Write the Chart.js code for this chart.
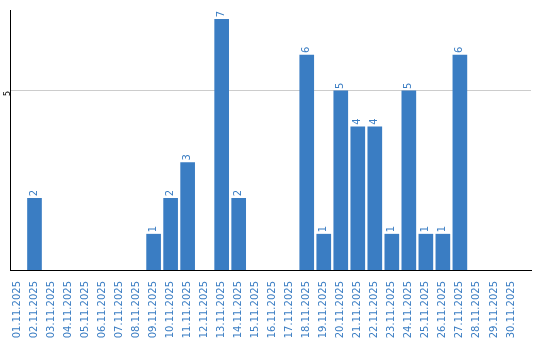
<!DOCTYPE html>
<html>
<head>
<meta charset="utf-8">
<script src="https://cdn.jsdelivr.net/npm/chart.js@4"></script>
<style>
    html, body { margin: 0; padding: 0; background: #fff; }
    #wrap { width: 540px; height: 340px; }
</style>
</head>
<body>
<div id="wrap"><canvas id="day-chart"></canvas></div>
<script>
// /---------------Data----------------/
const dayLabels = ['01.11.2025', '02.11.2025', '03.11.2025', '04.11.2025', '05.11.2025', '06.11.2025',
    '07.11.2025', '08.11.2025', '09.11.2025', '10.11.2025', '11.11.2025', '12.11.2025', '13.11.2025',
    '14.11.2025', '15.11.2025', '16.11.2025', '17.11.2025', '18.11.2025', '19.11.2025', '20.11.2025',
    '21.11.2025', '22.11.2025', '23.11.2025', '24.11.2025', '25.11.2025', '26.11.2025', '27.11.2025',
    '28.11.2025', '29.11.2025', '30.11.2025'];
const dayCounts = [0, 2, 0, 0, 0, 0, 0, 0, 1, 2, 3, 0, 7, 2, 0, 0, 0, 6, 1, 5, 4, 4, 1, 5, 1, 1, 6, 0, 0, 0];
const yTickValues = [5];

const blue = '#3a7dc3';

// /---------------Value labels on top of bars----------------/
const barValueLabels = {
    id: 'barValueLabels',
    afterDatasetsDraw(chart) {
        const ctx = chart.ctx;
        const meta = chart.getDatasetMeta(0);
        ctx.save();
        ctx.fillStyle = blue;
        ctx.font = '10px "DejaVu Sans"';
        ctx.textAlign = 'left';
        ctx.textBaseline = 'middle';
        meta.data.forEach((bar, i) => {
            const v = dayCounts[i];
            if (!v) return;
            ctx.save();
            ctx.translate(bar.x, bar.y - 2);
            ctx.rotate(-Math.PI / 2);
            ctx.fillText(String(v), 0, 0);
            ctx.restore();
        });
        ctx.restore();
    }
};

new Chart(document.querySelector('#day-chart').getContext('2d'), {
    type: 'bar',
    data: {
        datasets: [{
            // empty days get no bar at all
            data: dayCounts.map((v, i) => ({ x: i, y: v || null })),
            backgroundColor: blue,
            borderWidth: 0,
            barThickness: 14
        }]
    },
    options: {
        responsive: true,
        maintainAspectRatio: false,
        animation: false,
        layout: {
            padding: { left: 0, right: 9, top: 10, bottom: 0 }
        },
        scales: {
            x: {
                type: 'linear',
                offset: false,
                min: -0.44,
                max: 30.18,
                afterBuildTicks: scale => {
                    scale.ticks = dayLabels.map((_, i) => ({ value: i }));
                },
                afterFit: scale => {
                    scale.height = 70;
                },
                grid: { display: false },
                border: { display: true, color: '#000', width: 1 },
                ticks: {
                    autoSkip: false,
                    minRotation: 90,
                    maxRotation: 90,
                    padding: 3,
                    color: blue,
                    font: { family: 'DejaVu Sans', size: 10 },
                    callback: v => dayLabels[v]
                }
            },
            y: {
                min: 0,
                max: 7.26,
                afterBuildTicks: scale => {
                    scale.ticks = yTickValues.map(v => ({ value: v }));
                },
                afterFit: scale => {
                    scale.width = 10;
                },
                grid: { color: '#cccccc', drawTicks: false },
                border: { display: true, color: '#000', width: 1 },
                ticks: {
                    minRotation: 90,
                    maxRotation: 90,
                    padding: 2,
                    color: '#000',
                    font: { family: 'DejaVu Sans', size: 8 }
                }
            }
        },
        plugins: {
            legend: { display: false },
            tooltip: { enabled: false }
        }
    },
    plugins: [barValueLabels]
});
</script>
</body>
</html>
